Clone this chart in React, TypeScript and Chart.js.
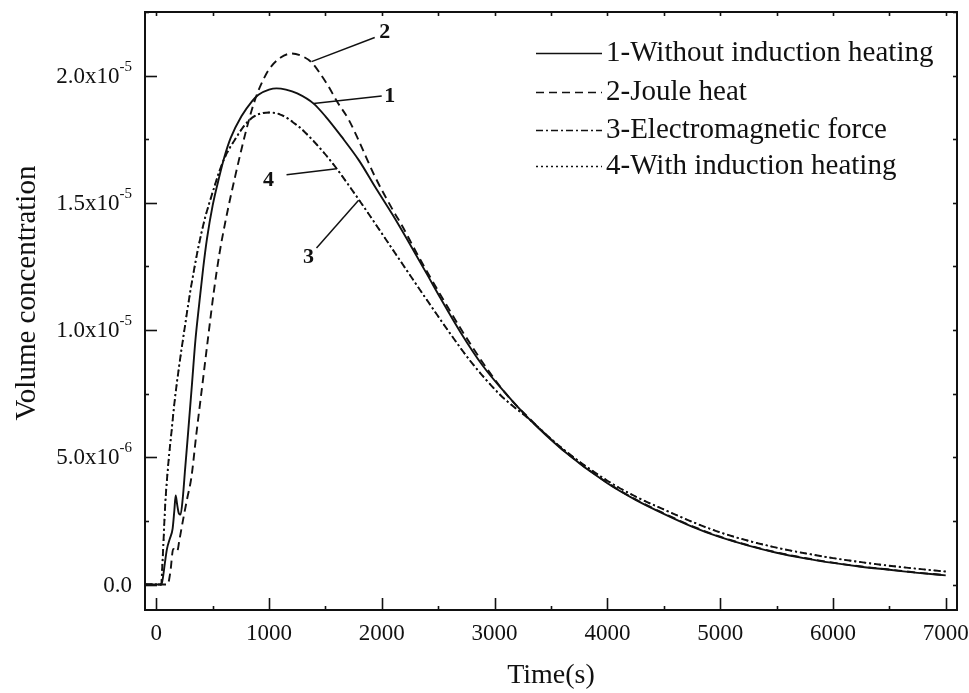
import { useEffect, useRef } from "react";
import { Chart, registerables } from "chart.js";

Chart.register(...registerables);

// ---------- data ----------
const TIME_1 = [-100, 45, 60, 75, 95, 120, 145, 160, 172, 185, 200, 215, 235, 255, 281, 317, 347, 380, 415, 450, 500, 560, 604, 660, 755, 850, 906, 1000, 1066, 1150, 1250, 1395, 1500, 1643, 1800, 1937, 2100, 2239, 2400, 2514, 2700, 2887, 3100, 3314, 3600, 4000, 4250, 4500, 4750, 5000, 5250, 5500, 5750, 6000, 6250, 6500, 6750, 7000];
const CONC_1 = [0, 0, 3e-7, 8e-7, 1.4e-6, 1.8e-6, 2.2e-6, 2.9e-6, 3.5e-6, 3.15e-6, 2.8e-6, 2.75e-6, 3.4e-6, 4.5e-6, 5.9e-6, 7.9e-6, 9.6e-6, 1.1e-5, 1.24e-5, 1.36e-5, 1.49e-5, 1.605e-5, 1.68e-5, 1.755e-5, 1.84e-5, 1.9e-5, 1.925e-5, 1.945e-5, 1.95e-5, 1.945e-5, 1.93e-5, 1.89e-5, 1.84e-5, 1.76e-5, 1.665e-5, 1.565e-5, 1.45e-5, 1.345e-5, 1.22e-5, 1.13e-5, 9.9e-6, 8.65e-6, 7.5e-6, 6.47e-6, 5.3e-6, 3.98e-6, 3.33e-6, 2.78e-6, 2.28e-6, 1.86e-6, 1.53e-6, 1.25e-6, 1.03e-6, 8.5e-7, 7.0e-7, 5.8e-7, 4.6e-7, 3.6e-7];

const TIME_2 = [-100, 100, 125, 150, 165, 185, 205, 240, 275, 311, 355, 410, 462, 510, 560, 610, 657, 700, 755, 800, 850, 900, 950, 1000, 1100, 1200, 1300, 1377, 1450, 1528, 1600, 1706, 1800, 1937, 2100, 2176, 2300, 2400, 2558, 2700, 2914, 3100, 3314, 3600, 4000, 4250, 4500, 4750, 5000, 5250, 5500, 5750, 6000, 6250, 6500, 6750, 7000];
const CONC_2 = [0, 0, 5e-7, 1.4e-6, 1.35e-6, 1.3e-6, 1.75e-6, 2.6e-6, 3.4e-6, 4.2e-6, 5.9e-6, 7.9e-6, 9.8e-6, 1.15e-5, 1.3e-5, 1.42e-5, 1.52e-5, 1.605e-5, 1.71e-5, 1.79e-5, 1.87e-5, 1.935e-5, 1.985e-5, 2.025e-5, 2.07e-5, 2.087e-5, 2.075e-5, 2.052e-5, 2.01e-5, 1.957e-5, 1.9e-5, 1.827e-5, 1.74e-5, 1.605e-5, 1.47e-5, 1.413e-5, 1.31e-5, 1.23e-5, 1.11e-5, 1.005e-5, 8.6e-6, 7.5e-6, 6.5e-6, 5.32e-6, 4.0e-6, 3.35e-6, 2.8e-6, 2.3e-6, 1.88e-6, 1.545e-6, 1.265e-6, 1.045e-6, 8.6e-7, 7.1e-7, 5.9e-7, 4.7e-7, 3.7e-7];

const TIME_3 = [-100, 44, 53, 62, 71, 80, 98, 115, 135, 160, 200, 249, 290, 338, 380, 426, 471, 520, 560, 604, 650, 693, 750, 817, 900, 1004, 1100, 1261, 1400, 1500, 1599, 1700, 1794, 2000, 2167, 2300, 2416, 2600, 2800, 3050, 3314, 3600, 4000, 4250, 4500, 4750, 5000, 5250, 5500, 5750, 6000, 6250, 6500, 6750, 7000];
const CONC_3 = [0, 0, 7e-7, 1.5e-6, 2.4e-6, 3.2e-6, 4.3e-6, 5.15e-6, 6.0e-6, 7.1e-6, 8.5e-6, 1.0e-5, 1.12e-5, 1.245e-5, 1.34e-5, 1.43e-5, 1.5e-5, 1.57e-5, 1.625e-5, 1.675e-5, 1.715e-5, 1.745e-5, 1.785e-5, 1.822e-5, 1.847e-5, 1.855e-5, 1.847e-5, 1.8e-5, 1.74e-5, 1.69e-5, 1.635e-5, 1.573e-5, 1.514e-5, 1.38e-5, 1.27e-5, 1.183e-5, 1.108e-5, 9.9e-6, 8.7e-6, 7.45e-6, 6.47e-6, 5.35e-6, 4.08e-6, 3.46e-6, 2.95e-6, 2.47e-6, 2.05e-6, 1.72e-6, 1.45e-6, 1.23e-6, 1.04e-6, 8.8e-7, 7.4e-7, 6.2e-7, 5.1e-7];

const TIME_4 = [-100, 44, 53, 62, 71, 80, 98, 115, 135, 160, 200, 249, 290, 338, 380, 426, 471, 520, 560, 604, 650, 693, 750, 817, 900, 1000, 1100, 1261, 1400, 1500, 1599, 1700, 1794, 2000, 2167, 2300, 2416, 2600, 2800, 3050, 3314, 3600, 4000, 4250, 4500, 4750, 5000, 5250, 5500, 5750, 6000, 6250, 6500, 6750, 7000];
const CONC_4 = [0, 0, 7e-7, 1.48e-6, 2.38e-6, 3.2e-6, 4.28e-6, 5.14e-6, 6.0e-6, 7.1e-6, 8.5e-6, 1.0e-5, 1.12e-5, 1.244e-5, 1.34e-5, 1.43e-5, 1.5e-5, 1.57e-5, 1.625e-5, 1.674e-5, 1.714e-5, 1.745e-5, 1.785e-5, 1.822e-5, 1.847e-5, 1.855e-5, 1.848e-5, 1.801e-5, 1.741e-5, 1.69e-5, 1.635e-5, 1.573e-5, 1.514e-5, 1.38e-5, 1.27e-5, 1.183e-5, 1.107e-5, 9.9e-6, 8.7e-6, 7.46e-6, 6.47e-6, 5.35e-6, 4.08e-6, 3.46e-6, 2.95e-6, 2.47e-6, 2.05e-6, 1.72e-6, 1.45e-6, 1.23e-6, 1.04e-6, 8.8e-7, 7.4e-7, 6.2e-7, 5.1e-7];

const SERIES_NAMES = ["1-Without induction heating", "2-Joule heat", "3-Electromagnetic force", "4-With induction heating"];

const X_MAJOR_TICKS = [0, 1000, 2000, 3000, 4000, 5000, 6000, 7000];
const X_TICK_LABELS = ["0", "1000", "2000", "3000", "4000", "5000", "6000", "7000"];
const X_MINOR_TICKS = [500, 1500, 2500, 3500, 4500, 5500, 6500];

const Y_MAJOR_TICKS = [0, 5e-6, 1e-5, 1.5e-5, 2e-5];
const Y_TICK_MANTISSA = ["0.0", "5.0x10", "1.0x10", "1.5x10", "2.0x10"];
const Y_TICK_EXPONENT = ["", "-6", "-5", "-5", "-5"];
const Y_MINOR_TICKS = [2.5e-6, 7.5e-6, 1.25e-5, 1.75e-5, 2.25e-5];

const X_TITLE = "Time(s)";
const Y_TITLE = "Volume concentration";

// curve tags "1".."4" with leader lines (data coordinates)
const TAG_TEXT = ["1", "2", "3", "4"];
const TAG_X = [2070, 2025, 1350, 995];
const TAG_Y = [1.92e-5, 2.17e-5, 1.287e-5, 1.59e-5];
const LEADER_FROM_X = [1395, 1377, 1794, 1599];
const LEADER_FROM_Y = [1.89e-5, 2.055e-5, 1.51e-5, 1.634e-5];
const LEADER_TO_X = [1999, 1937, 1421, 1155];
const LEADER_TO_Y = [1.92e-5, 2.15e-5, 1.323e-5, 1.61e-5];

const INK = "#111111";
const SERIF = '"Liberation Serif", "Times New Roman", serif';

function pts(xs: number[], ys: number[]) {
  return xs.map((x, i) => ({ x, y: ys[i] }));
}

const decoPlugin = {
  id: "deco",
  afterDraw(chart: any) {
    const { ctx, chartArea: a, scales } = chart;
    const xs = scales.x;
    const ys = scales.y;
    ctx.save();
    ctx.strokeStyle = INK;
    ctx.fillStyle = INK;
    ctx.setLineDash([]);

    // frame
    ctx.lineWidth = 2;
    ctx.strokeRect(a.left, a.top, a.right - a.left, a.bottom - a.top);

    // ticks
    ctx.lineWidth = 1.6;
    const line = (x1: number, y1: number, x2: number, y2: number) => {
      ctx.beginPath();
      ctx.moveTo(x1, y1);
      ctx.lineTo(x2, y2);
      ctx.stroke();
    };
    X_MAJOR_TICKS.forEach((v) => {
      const px = Math.round(xs.getPixelForValue(v)) + 0.5;
      line(px, a.bottom, px, a.bottom - 12);
      line(px, a.top, px, a.top + 4);
    });
    X_MINOR_TICKS.forEach((v) => {
      const px = Math.round(xs.getPixelForValue(v)) + 0.5;
      line(px, a.bottom, px, a.bottom - 4);
      line(px, a.top, px, a.top + 4);
    });
    Y_MAJOR_TICKS.forEach((v) => {
      const py = Math.round(ys.getPixelForValue(v)) + 0.5;
      line(a.left, py, a.left + 12, py);
      line(a.right, py, a.right - 4, py);
    });
    Y_MINOR_TICKS.forEach((v) => {
      const py = Math.round(ys.getPixelForValue(v)) + 0.5;
      line(a.left, py, a.left + 4, py);
      line(a.right, py, a.right - 4, py);
    });

    // x tick labels
    ctx.font = `23px ${SERIF}`;
    ctx.textAlign = "center";
    ctx.textBaseline = "middle";
    X_MAJOR_TICKS.forEach((v, i) => {
      ctx.fillText(X_TICK_LABELS[i], xs.getPixelForValue(v), a.bottom + 24);
    });

    // y tick labels with superscript exponent
    const rightEdge = a.left - 13;
    Y_MAJOR_TICKS.forEach((v, i) => {
      const py = ys.getPixelForValue(v);
      ctx.font = `15px ${SERIF}`;
      const supW = Y_TICK_EXPONENT[i] ? ctx.measureText(Y_TICK_EXPONENT[i]).width : 0;
      ctx.textAlign = "right";
      ctx.textBaseline = "middle";
      if (Y_TICK_EXPONENT[i]) ctx.fillText(Y_TICK_EXPONENT[i], rightEdge, py - 9);
      ctx.font = `23px ${SERIF}`;
      ctx.fillText(Y_TICK_MANTISSA[i], rightEdge - supW, py + 1);
    });

    // axis titles
    ctx.font = `28px ${SERIF}`;
    ctx.textAlign = "center";
    ctx.textBaseline = "middle";
    ctx.fillText(X_TITLE, (a.left + a.right) / 2, a.bottom + 66);
    ctx.save();
    ctx.translate(27, a.top + 281);
    ctx.rotate(-Math.PI / 2);
    ctx.font = `29px ${SERIF}`;
    ctx.fillText(Y_TITLE, 0, 0);
    ctx.restore();

    // legend
    const ds = chart.data.datasets;
    const lx1 = a.right - 421;
    const lx2 = a.right - 355;
    const rowY = [a.top + 41, a.top + 80, a.top + 118, a.top + 154];
    ds.forEach((d: any, i: number) => {
      ctx.lineWidth = 1.6;
      ctx.setLineDash(d.borderDash || []);
      const y = Math.round(rowY[i]) + 0.5;
      line(lx1, y, lx2, y);
      ctx.setLineDash([]);
      ctx.font = `29px ${SERIF}`;
      ctx.textAlign = "left";
      ctx.textBaseline = "middle";
      ctx.fillText(SERIES_NAMES[i], lx2 + 4, rowY[i]);
    });

    // curve tags and leader lines
    ctx.lineWidth = 1.5;
    ctx.setLineDash([]);
    TAG_TEXT.forEach((t, i) => {
      line(
        xs.getPixelForValue(LEADER_FROM_X[i]),
        ys.getPixelForValue(LEADER_FROM_Y[i]),
        xs.getPixelForValue(LEADER_TO_X[i]),
        ys.getPixelForValue(LEADER_TO_Y[i])
      );
      ctx.font = `bold 22px ${SERIF}`;
      ctx.textAlign = "center";
      ctx.textBaseline = "middle";
      ctx.fillText(t, xs.getPixelForValue(TAG_X[i]), ys.getPixelForValue(TAG_Y[i]));
    });

    ctx.restore();
  },
};

export default function App() {
  const ref = useRef<HTMLCanvasElement | null>(null);

  useEffect(() => {
    if (!ref.current) return;
    const common = {
      pointRadius: 0,
      borderColor: INK,
      borderWidth: 1.9,
      fill: false,
      cubicInterpolationMode: "monotone" as const,
    };
    const chart = new Chart(ref.current, {
      type: "line",
      data: {
        datasets: [
          { ...common, label: SERIES_NAMES[0], data: pts(TIME_1, CONC_1), borderDash: [] },
          { ...common, label: SERIES_NAMES[1], data: pts(TIME_2, CONC_2), borderDash: [8, 5] },
          { ...common, label: SERIES_NAMES[2], data: pts(TIME_3, CONC_3), borderDash: [7, 3, 2, 3] },
          { ...common, label: SERIES_NAMES[3], data: pts(TIME_4, CONC_4), borderDash: [2, 3], borderWidth: 1.4 },
        ],
      },
      options: {
        animation: false,
        responsive: true,
        maintainAspectRatio: false,
        layout: { padding: { top: 12, right: 12, left: 0, bottom: 0 } },
        plugins: { legend: { display: false }, tooltip: { enabled: false } },
        events: [],
        scales: {
          x: {
            type: "linear",
            min: -100,
            max: 7100,
            grid: { display: false },
            border: { display: false },
            ticks: { display: false },
            afterFit: (s: any) => {
              s.height = 83;
            },
          },
          y: {
            type: "linear",
            min: -1e-6,
            max: 2.25e-5,
            grid: { display: false },
            border: { display: false },
            ticks: { display: false },
            afterFit: (s: any) => {
              s.width = 145;
            },
          },
        },
      },
      plugins: [decoPlugin],
    });
    return () => chart.destroy();
  }, []);

  return (
    <div style={{ position: "absolute", left: 0, top: 0, width: 969, height: 693, background: "#fff" }}>
      <canvas ref={ref} />
    </div>
  );
}
